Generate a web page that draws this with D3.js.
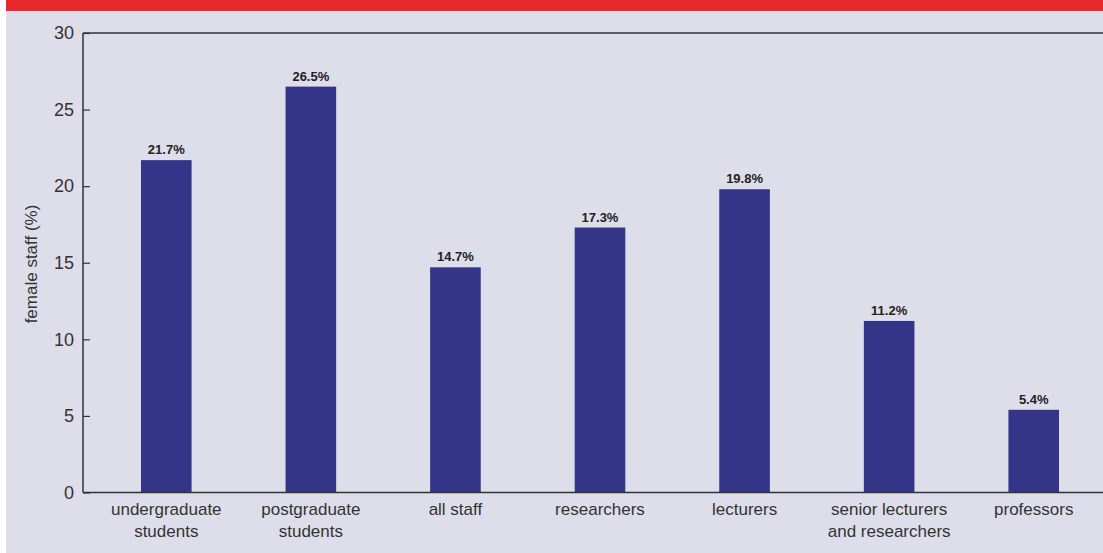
<!DOCTYPE html>
<html><head><meta charset="utf-8">
<script src="https://cdn.jsdelivr.net/npm/d3@7"></script>
<style>html,body{margin:0;padding:0;background:#fff;}svg{display:block;}</style>
</head><body>
<svg id="c" width="1103" height="553"></svg>
<script>
const categories = [["undergraduate","students"],["postgraduate","students"],["all staff"],["researchers"],["lecturers"],["senior lecturers","and researchers"],["professors"]];
const values = [21.7, 26.5, 14.7, 17.3, 19.8, 11.2, 5.4];
const yTicks = [0,5,10,15,20,25,30];
const yTitle = "female staff (%)";

const svg = d3.select("#c");
const W = 1103, H = 553;
const font = "'Liberation Sans Narrow','Arial Narrow','Liberation Sans',sans-serif";
svg.append("rect").attr("x",6).attr("y",0).attr("width",W-6).attr("height",H).attr("fill","#dedeea");
svg.append("rect").attr("x",6).attr("y",0).attr("width",W-6).attr("height",11).attr("fill","#e8282b");

const x0 = 83, y0 = 492.5, yTop = 33;
const x = d3.scaleBand().domain(d3.range(values.length)).range([94,1106]).paddingInner(0.65).paddingOuter(0.325);
const y = d3.scaleLinear().domain([0,30]).range([y0,yTop]);

// bars
svg.selectAll("rect.bar").data(values).enter().append("rect").attr("class","bar")
  .attr("x",(d,i)=>x(i)).attr("width",x.bandwidth())
  .attr("y",d=>y(d)).attr("height",d=>y0-y(d)).attr("fill","#343589");

// value labels
svg.selectAll("text.val").data(values).enter().append("text").attr("class","val")
  .attr("x",(d,i)=>x(i)+x.bandwidth()/2).attr("y",d=>y(d)-6)
  .attr("text-anchor","middle").attr("font-family",font).attr("font-weight","bold")
  .attr("font-size",13).attr("fill","#222").text(d=>d.toFixed(1)+"%");

// y axis
const yAxis = d3.axisRight(y).tickValues(yTicks).tickSize(7).tickFormat("");
const ga = svg.append("g").attr("transform",`translate(${x0},0)`).call(yAxis);
ga.select(".domain").remove();
ga.selectAll(".tick line").attr("stroke","#333").attr("stroke-width",1.2);
svg.selectAll("text.yt").data(yTicks).enter().append("text").attr("class","yt")
  .attr("x",74).attr("y",d=>y(d)).attr("dy","0.35em").attr("text-anchor","end")
  .attr("font-family","'Liberation Sans',Arial,sans-serif").attr("font-size",18).attr("fill","#333").text(d=>d);

// frame lines
svg.append("line").attr("x1",x0).attr("x2",x0).attr("y1",yTop).attr("y2",y0).attr("stroke","#333").attr("stroke-width",1.5);
svg.append("line").attr("x1",x0).attr("x2",W).attr("y1",yTop).attr("y2",yTop).attr("stroke","#333").attr("stroke-width",1.5);
svg.append("line").attr("x1",x0).attr("x2",W).attr("y1",y0).attr("y2",y0).attr("stroke","#333").attr("stroke-width",1.5);

// x labels
const xl = svg.selectAll("text.xl").data(categories).enter().append("text").attr("class","xl")
  .attr("text-anchor","middle").attr("font-family",font).attr("font-size",17).attr("fill","#333");
xl.each(function(lines,i){
  const t = d3.select(this);
  lines.forEach((l,j)=>t.append("tspan").attr("x",x(i)+x.bandwidth()/2).attr("y",515+j*22).text(l));
});

// y title
svg.append("text").attr("transform","translate(37,264) rotate(-90)").attr("text-anchor","middle")
  .attr("font-family","'Liberation Sans',Arial,sans-serif").attr("font-size",17).attr("fill","#333").text(yTitle);
</script>
</body></html>
